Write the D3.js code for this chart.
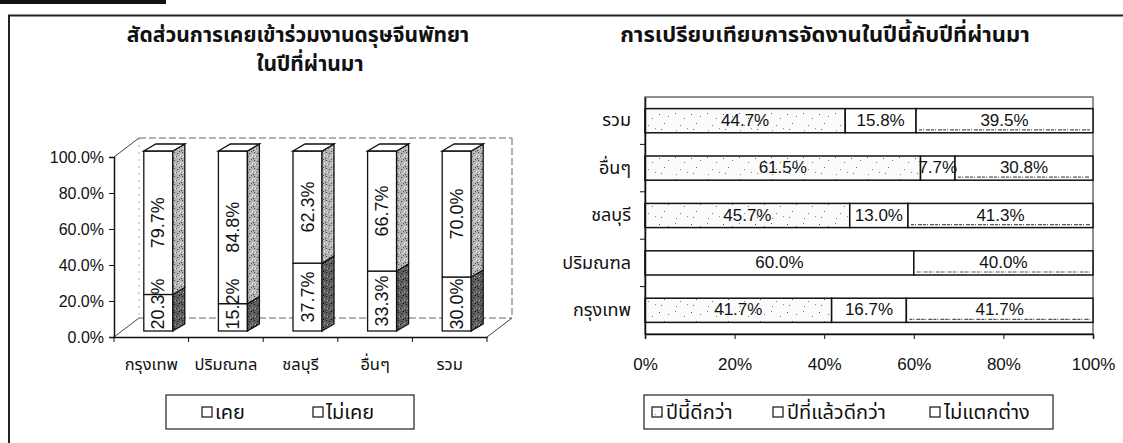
<!DOCTYPE html>
<html><head><meta charset="utf-8">
<script src="https://cdn.jsdelivr.net/npm/d3@7"></script>
<style>
body{margin:0;background:#fff;}
svg{display:block;}
</style></head>
<body>
<svg id="c" width="1123" height="443"></svg>
<script>
// ---------- data ----------
const categories = ["กรุงเทพ","ปริมณฑล","ชลบุรี","อื่นๆ","รวม"];
const everAttended = [20.3,15.2,37.7,33.3,30.0];
const neverAttended = [79.7,84.8,62.3,66.7,70.0];
const leftSeries = ["เคย","ไม่เคย"];
const leftTicks = [0,20,40,60,80,100];
const leftTitle = ["สัดส่วนการเคยเข้าร่วมงานดรุษจีนพัทยา","ในปีที่ผ่านมา"];

const rightCategories = ["รวม","อื่นๆ","ชลบุรี","ปริมณฑล","กรุงเทพ"];
const thisYearBetter = [44.7,61.5,45.7,0,41.7];
const lastYearBetter = [15.8,7.7,13.0,60.0,16.7];
const noDifference = [39.5,30.8,41.3,40.0,41.7];
const rightSeries = ["ปีนี้ดีกว่า","ปีที่แล้วดีกว่า","ไม่แตกต่าง"];
const rightTicks = [0,20,40,60,80,100];
const rightTitle = "การเปรียบเทียบการจัดงานในปีนี้กับปีที่ผ่านมา";

// ---------- setup ----------
const THAI = "'Noto Sans Thai','Tahoma','Loma','Garuda','Waree','Norasi',sans-serif";
const LAT = "'Liberation Sans',Arial,sans-serif";
const svg = d3.select("#c");
const defs = svg.append("defs");

function speck(id, base, dots, w, h){
  const p = defs.append("pattern").attr("id", id).attr("patternUnits","userSpaceOnUse")
    .attr("width", w).attr("height", h);
  p.append("rect").attr("width", w).attr("height", h).attr("fill", base);
  dots.forEach(d => p.append("rect").attr("x", d[0]).attr("y", d[1]).attr("width", d[2]||1).attr("height", d[3]||1).attr("fill", d[4]));
}
speck("speckUpper", "#b5b5b5", [[1,1,1,1,"#333"],[4,3,1,1,"#fff"],[6,0,1,1,"#444"],[2,5,1,1,"#eee"],[5,6,1,1,"#333"],[0,4,1,1,"#666"],[7,4,1,1,"#fff"],[3,7,1,1,"#555"],[6,2,1,1,"#ddd"]], 8, 8);
speck("speckLower", "#5e5e5e", [[1,1,1,1,"#111"],[4,3,1,1,"#aaa"],[6,0,1,1,"#111"],[2,5,1,1,"#999"],[5,6,1,1,"#111"],[0,4,1,1,"#222"],[7,4,1,1,"#bbb"],[3,7,1,1,"#000"]], 8, 8);
speck("dots", "#fbfbfb", [[3,3,1,1,"#666"],[12,8,1,1,"#777"],[19,4,1,1,"#555"],[8,15,1,1,"#777"],[24,13,1,1,"#666"],[15,18,1,1,"#888"],[28,6,1,1,"#777"],[4,20,1,1,"#888"],[21,19,1,1,"#666"]], 32, 22);

// frame
svg.append("rect").attr("x",0).attr("y",0).attr("width",166).attr("height",4).attr("fill","#111");
svg.append("line").attr("x1",8).attr("x2",1123).attr("y1",15.5).attr("y2",15.5).attr("stroke","#222").attr("stroke-width",2);
svg.append("line").attr("x1",9).attr("x2",9).attr("y1",15).attr("y2",443).attr("stroke","#222").attr("stroke-width",2);

// ---------- left 3D stacked chart ----------
const L = {x0:114, x1:487, yBottom:337, yTop:157};
const dep = {dx:25, dy:-19};
const xL = d3.scaleBand().domain(categories).range([L.x0, L.x1]);
const yL = d3.scaleLinear().domain([0,100]).range([L.yBottom, L.yTop]);
const gL = svg.append("g");

const titleX = [298, 310];
gL.selectAll("text.title").data(leftTitle).join("text")
  .attr("x", (d,i)=>titleX[i]).attr("y", (d,i)=>42+i*29).attr("text-anchor","middle")
  .attr("font-family", THAI).attr("font-weight","bold").attr("font-size",21).attr("fill","#111").text(d=>d);

// walls
const bx0 = L.x0+dep.dx, bx1 = L.x1+dep.dx, byT = L.yTop+dep.dy, byB = L.yBottom+dep.dy;
const dash = {stroke:"#666", "stroke-width":1, "stroke-dasharray":"7,3"};
function ln(g,x1,y1,x2,y2,st){ const l=g.append("line").attr("x1",x1).attr("y1",y1).attr("x2",x2).attr("y2",y2); Object.entries(st).forEach(([k,v])=>l.attr(k,v)); return l;}
ln(gL,bx0,byT,bx1,byT,dash);
ln(gL,bx1,byT,bx1,byB,dash);
ln(gL,bx0,byB,bx1,byB,dash);
ln(gL,bx0,byT,bx0,byB,{stroke:"#aaa","stroke-width":1,"stroke-dasharray":"2,5"});
ln(gL,L.x0,L.yTop,bx0,byT,{stroke:"#444","stroke-width":1});
ln(gL,L.x0,L.yBottom,bx0,byB,{stroke:"#444","stroke-width":1});
ln(gL,L.x1,L.yBottom,bx1,byB,{stroke:"#444","stroke-width":1});

// axes
const yAxisL = d3.axisLeft(yL).tickValues(leftTicks).tickSize(5).tickFormat(d=>d3.format(".1f")(d)+"%");
const ay = gL.append("g").attr("transform",`translate(${L.x0},0)`).call(yAxisL);
ay.select(".domain").attr("stroke","#111").attr("stroke-width",1.5);
ay.selectAll("line").attr("stroke","#111");
ay.selectAll("text").attr("font-family",LAT).attr("font-size",16).attr("fill","#111").attr("x",-10);

const axL = gL.append("g").attr("transform",`translate(0,${L.yBottom})`).call(d3.axisBottom(xL).tickSize(0).tickPadding(0));
axL.select(".domain").attr("stroke","#111").attr("stroke-width",1.5);
axL.selectAll(".tick text").attr("font-family",THAI).attr("font-size",16.5).attr("fill","#111").attr("dy",0).attr("y",33);
// boundary ticks
gL.selectAll("line.bt").data(d3.range(categories.length+1)).join("line")
  .attr("x1",i=>L.x0+i*xL.step()).attr("x2",i=>L.x0+i*xL.step())
  .attr("y1",L.yBottom).attr("y2",L.yBottom+5).attr("stroke","#111");

// bars
const bw = 29, sideDx = 12, sideDy = -7, off = {dx:7, dy:-6};
const LBL = 18, halfLen = 26;
const stackedL = categories.map((c,i)=>{
  const tot = everAttended[i]+neverAttended[i];
  const a = everAttended[i]/tot*100;
  return {c, segs:[{s:0, v0:0, v1:a, v:everAttended[i]},{s:1, v0:a, v1:100, v:neverAttended[i]}]};
});
const barG = gL.selectAll("g.bar").data(stackedL).join("g");
barG.each(function(d){
  const g = d3.select(this);
  const xl = xL(d.c) + xL.bandwidth()/2 - bw/2 + off.dx;
  const xr = xl + bw;
  const yBase = yL(0)+off.dy;
  d.segs.forEach(s=>{
    const yb = yL(s.v0)+off.dy, yt = yL(s.v1)+off.dy;
    g.append("rect").attr("x",xl).attr("y",yt).attr("width",bw).attr("height",yb-yt)
      .attr("fill","#fff").attr("stroke","#111").attr("stroke-width",1.3);
    g.append("path").attr("d",`M${xr},${yb}L${xr+sideDx},${yb+sideDy}L${xr+sideDx},${yt+sideDy}L${xr},${yt}Z`)
      .attr("fill", s.s===0?"url(#speckLower)":"url(#speckUpper)").attr("stroke","#111").attr("stroke-width",1.3);
  });
  d.segs.forEach(s=>{
    const yb = yL(s.v0)+off.dy, yt = yL(s.v1)+off.dy;
    const cy = Math.min((yb+yt)/2, yBase - halfLen - 1), cx = (xl+xr)/2;
    g.append("text").attr("transform",`translate(${cx+6},${cy}) rotate(-90)`).attr("text-anchor","middle")
      .attr("font-family",LAT).attr("font-size",LBL).attr("fill","#111").text(d3.format(".1f")(s.v)+"%");
  });
  const yt = yL(100)+off.dy;
  g.append("path").attr("d",`M${xl},${yt}L${xr},${yt}L${xr+sideDx},${yt+sideDy}L${xl+sideDx},${yt+sideDy}Z`)
    .attr("fill","#fff").attr("stroke","#111").attr("stroke-width",1.3);
});

// left legend
const lgL = gL.append("g");
lgL.append("rect").attr("x",166).attr("y",395).attr("width",248).attr("height",34).attr("fill","#fff").attr("stroke","#333").attr("stroke-width",1.3);
const lgLx = [202,313];
leftSeries.forEach((s,i)=>{
  lgL.append("rect").attr("x",lgLx[i]).attr("y",407).attr("width",10).attr("height",10).attr("fill","#fff").attr("stroke","#111").attr("stroke-width",1.2);
  lgL.append("text").attr("x",lgLx[i]+13).attr("y",419).attr("font-family",THAI).attr("font-size",20).attr("fill","#111").text(s);
});

// ---------- right horizontal 100% stacked chart ----------
const R = {x0:645, x1:1093, y0:97, y1:334};
const xR = d3.scaleLinear().domain([0,100]).range([R.x0, R.x1]);
const yR = d3.scaleBand().domain(rightCategories).range([R.y0, R.y1]).paddingInner(0.49).paddingOuter(0.245);
const yRb = d3.scaleBand().domain(rightCategories).range([R.y0, R.y1]);
const gR = svg.append("g");

gR.append("text").attr("x",825).attr("y",42).attr("text-anchor","middle").attr("font-family",THAI)
  .attr("font-weight","bold").attr("font-size",22).attr("fill","#111").text(rightTitle);

gR.append("rect").attr("x",R.x0).attr("y",R.y0).attr("width",R.x1-R.x0).attr("height",R.y1-R.y0)
  .attr("fill","#fff").attr("stroke","#555").attr("stroke-width",1.3);

const rows = rightCategories.map((c,i)=>{
  const vals = [thisYearBetter[i], lastYearBetter[i], noDifference[i]];
  const tot = d3.sum(vals);
  let acc = 0;
  return {c, segs: vals.map((v,s)=>{ const v0 = acc; acc += v/tot*100; return {s, v, v0, v1:acc}; }).filter(d=>d.v>0)};
});
const fills = ["url(#dots)","#fff","#fff"];
const rowG = gR.selectAll("g.row").data(rows).join("g");
rowG.each(function(d){
  const g = d3.select(this);
  const y = yR(d.c), h = yR.bandwidth();
  d.segs.forEach(s=>{
    g.append("rect").attr("x",xR(s.v0)).attr("y",y).attr("width",xR(s.v1)-xR(s.v0)).attr("height",h)
      .attr("fill",fills[s.s]).attr("stroke","#111").attr("stroke-width",1.5);
    if(s.s===2){
      g.append("line").attr("x1",xR(s.v0)+3).attr("x2",xR(s.v1)-3).attr("y1",y+h-3).attr("y2",y+h-3)
        .attr("stroke","#555").attr("stroke-width",1.2).attr("stroke-dasharray","3,1,1,2,4,1");
    }
  });
  d.segs.forEach(s=>{
    g.append("text").attr("x",(xR(s.v0)+xR(s.v1))/2).attr("y",y+h/2+5).attr("text-anchor","middle")
      .attr("font-family",LAT).attr("font-size",17).attr("fill","#111").text(d3.format(".1f")(s.v)+"%");
  });
});

// right axes
const ayR = gR.append("g").attr("transform",`translate(${R.x0},0)`).call(d3.axisLeft(yRb).tickSize(0).tickPadding(14));
ayR.select(".domain").attr("stroke","#111").attr("stroke-width",1.5);
ayR.selectAll("text").attr("font-family",THAI).attr("font-size",18).attr("fill","#111");
gR.selectAll("line.rt").data(d3.range(1,rightCategories.length)).join("line")
  .attr("x1",R.x0-5).attr("x2",R.x0).attr("y1",i=>R.y0+i*yRb.step()).attr("y2",i=>R.y0+i*yRb.step()).attr("stroke","#111");

const axR = gR.append("g").attr("transform",`translate(0,${R.y1})`).call(d3.axisBottom(xR).tickValues(rightTicks).tickSize(5).tickFormat(d=>d+"%"));
axR.select(".domain").attr("stroke","#111").attr("stroke-width",1.5);
axR.selectAll("line").attr("stroke","#111");
axR.selectAll("text").attr("font-family",LAT).attr("font-size",17).attr("fill","#111").attr("y",24).attr("dy","0.71em");

// right legend
const lgR = gR.append("g");
lgR.append("rect").attr("x",644).attr("y",395).attr("width",409).attr("height",34).attr("fill","#fff").attr("stroke","#333").attr("stroke-width",1.3);
const lgRx = [652,773,930];
const lgFill = ["url(#dots)","#fff","#fff"];
rightSeries.forEach((s,i)=>{
  lgR.append("rect").attr("x",lgRx[i]).attr("y",407).attr("width",10).attr("height",10).attr("fill",lgFill[i]).attr("stroke","#111").attr("stroke-width",1.2);
  lgR.append("text").attr("x",lgRx[i]+14).attr("y",419).attr("font-family",THAI).attr("font-size",20).attr("fill","#111").text(s);
});
</script>
</body></html>
